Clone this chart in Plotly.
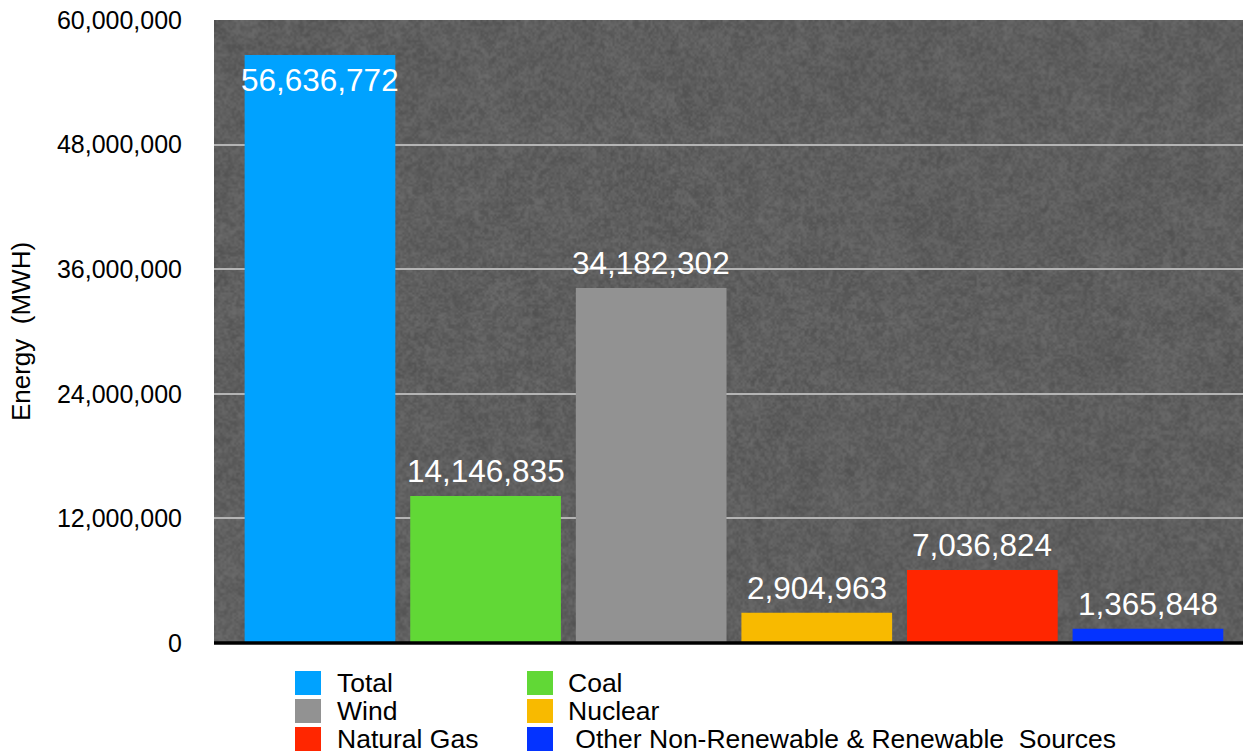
import base64
import struct
import zlib

import numpy as np
import plotly.graph_objects as go

# Electricity generation by source (MWh)
sources = ["Total", "Coal", "Wind", "Nuclear", "Natural Gas",
           " Other Non-Renewable & Renewable  Sources"]
energy_mwh = [56636772, 14146835, 34182302, 2904963, 7036824, 1365848]
colors = ["#00a2ff", "#61d836", "#929292", "#f8ba00", "#ff2600", "#0433ff"]
y_ticks = [0, 12000000, 24000000, 36000000, 48000000, 60000000]

FONT = "Liberation Sans, Arial, sans-serif"
W, H = 1243, 753
PL, PT, PB = 214, 20, 643          # plot-area pixel edges


def hash_noise(h, w, scale):
    """Deterministic shader-style value noise in [0, 1)."""
    yy, xx = np.mgrid[0:h, 0:w].astype(np.float64)
    v = np.sin(xx * 12.9898 * scale + yy * 78.233 * scale) * 43758.5453
    return v - np.floor(v)


def box_blur(a, k):
    h, w = a.shape
    pad = np.pad(a, k, mode="edge")
    acc = np.zeros_like(a)
    n = 0
    for dy in range(-k, k + 1):
        for dx in range(-k, k + 1):
            acc += pad[k + dy:k + dy + h, k + dx:k + dx + w]
            n += 1
    return acc / n


def stone_texture(h, w):
    fine = hash_noise(h, w, 1.0)
    grain = 0.6 * fine + 0.4 * box_blur(fine, 1)
    grain = (grain - grain.mean()) / (grain.std() + 1e-9)
    coarse = hash_noise(h // 8 + 1, w // 8 + 1, 0.37)
    coarse = np.kron(coarse, np.ones((8, 8)))[:h, :w]
    coarse = box_blur(coarse, 4)
    coarse = (coarse - coarse.mean()) / (coarse.std() + 1e-9)
    g = 95 + 5.5 * grain + 1.5 * coarse
    return np.clip(g, 0, 255).astype(np.uint8)


def png_data_uri(gray):
    h, w = gray.shape
    raw = b"".join(b"\x00" + gray[r].tobytes() for r in range(h))

    def chunk(tag, data):
        c = struct.pack(">I", len(data)) + tag + data
        return c + struct.pack(">I", zlib.crc32(tag + data) & 0xFFFFFFFF)

    png = (b"\x89PNG\r\n\x1a\n"
           + chunk(b"IHDR", struct.pack(">IIBBBBB", w, h, 8, 0, 0, 0, 0))
           + chunk(b"IDAT", zlib.compress(raw, 9))
           + chunk(b"IEND", b""))
    return "data:image/png;base64," + base64.b64encode(png).decode()


fig = go.Figure()
for i, (name, val, col) in enumerate(zip(sources, energy_mwh, colors)):
    fig.add_trace(go.Bar(
        x=[i], y=[val], name=name.strip(), marker=dict(color=col, line=dict(width=0)),
        width=0.91, showlegend=False, hoverinfo="name+y",
    ))

# value labels: the Total bar carries its label inside the top of the bar
annotations = []
for i, val in enumerate(energy_mwh):
    inside = i == 0
    annotations.append(dict(
        x=i, y=val, xref="x", yref="y", text=f"{val:,}", showarrow=False,
        yanchor="middle", yshift=-25 if inside else 25,
        font=dict(family=FONT, size=31.5, color="white"),
    ))

# two-column legend with large swatches
legend_cols = [(295, 335), (527, 566)]
row_y = [683, 711, 739]
pw, ph = W - PL, PB - PT
shapes = []
for k, (name, col) in enumerate(zip(sources, colors)):
    c, r = k % 2, k // 2
    sx, tx = legend_cols[c]
    yc = row_y[r]
    shapes.append(dict(
        type="rect", xref="paper", yref="paper", layer="above",
        x0=(sx - PL) / pw, x1=(sx + 26 - PL) / pw,
        y0=(PB - (yc + 12)) / ph, y1=(PB - (yc - 12)) / ph,
        fillcolor=col, line=dict(width=0),
    ))
    annotations.append(dict(
        x=(tx - PL) / pw, y=(PB - yc) / ph, xref="paper", yref="paper",
        text=name, showarrow=False, xanchor="left", yanchor="middle",
        font=dict(family=FONT, size=26.5, color="black"),
    ))

# x-axis baseline drawn in paper space so it is not clipped by the plot area
shapes.append(dict(type="line", xref="paper", yref="paper", x0=0, x1=1, y0=0, y1=0,
                   line=dict(color="black", width=3.5), layer="above"))

texture = png_data_uri(stone_texture(ph // 2, pw // 2))

fig.update_layout(
    width=W, height=H,
    margin=dict(l=PL, r=0, t=PT, b=H - PB),
    paper_bgcolor="white",
    plot_bgcolor="#5e5e5e",
    barmode="overlay",
    font=dict(family=FONT, size=25, color="black"),
    images=[dict(source=texture, xref="paper", yref="paper", x=0, y=1,
                 sizex=1, sizey=1, xanchor="left", yanchor="top",
                 sizing="stretch", layer="below")],
    xaxis=dict(range=[-0.64, 5.574], showticklabels=False, showgrid=False,
               zeroline=False, showline=False, ticks=""),
    yaxis=dict(
        range=[0, 60000000], tickvals=y_ticks, tickformat=",d",
        showgrid=True, gridcolor="#b4b4b4", gridwidth=2,
        zeroline=False, showline=False,
        ticks="outside", ticklen=26, tickcolor="rgba(0,0,0,0)",
        tickfont=dict(family=FONT, size=25, color="black"),
        title=dict(text="Energy  (MWH)", font=dict(family=FONT, size=26, color="black"),
                   standoff=18),
    ),
    annotations=annotations,
    shapes=shapes,
)

fig.write_html("out.html")
